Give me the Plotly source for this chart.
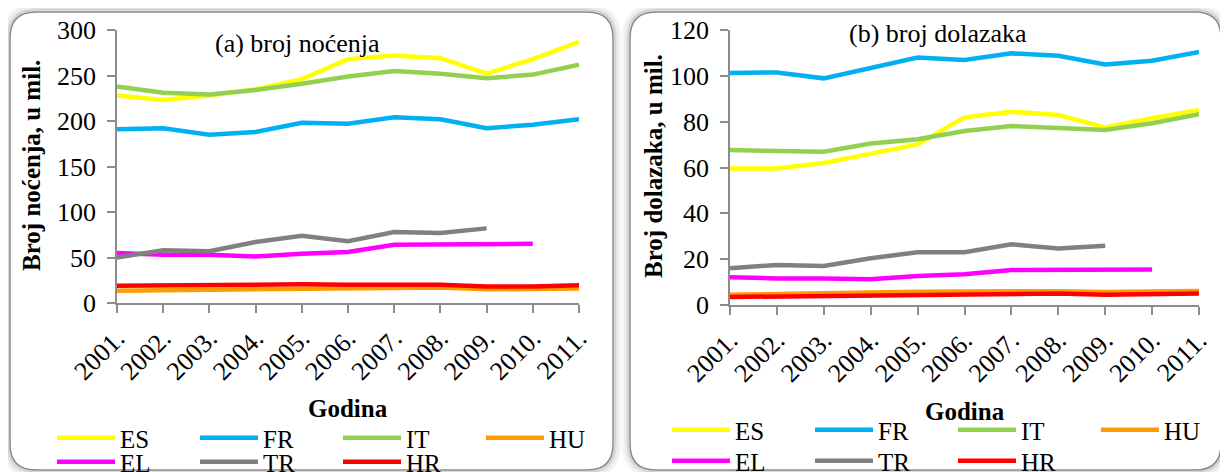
import plotly.graph_objects as go

# data (millions)
years = ["2001.", "2002.", "2003.", "2004.", "2005.", "2006.", "2007.", "2008.", "2009.", "2010.", "2011."]
countries = ["ES", "FR", "IT", "HU", "EL", "TR", "HR"]

# (a) broj nocenja
nights_es = [228, 223, 228, 235, 246, 268, 272, 269, 252, 268, 287]
nights_fr = [191, 192, 185, 188, 198, 197, 204, 202, 192, 196, 202]
nights_it = [238, 231, 229, 234, 241, 249, 255, 252, 247, 251, 262]
nights_hu = [13.5, 14, 14, 15, 16, 16, 17, 17, 15, 15, 16]
nights_el = [55, 53, 53, 51, 54, 56, 64, 64, 64, 65, None]
nights_tr = [50, 58, 57, 67, 74, 68, 78, 77, 82, None, None]
nights_hr = [19, 19.5, 19.5, 20, 20.5, 20, 20, 20, 18, 18, 19.5]

# (b) broj dolazaka
arr_es = [59.6, 59.6, 62.0, 66.2, 70.1, 81.9, 84.3, 82.9, 77.5, 81.5, 85.1]
arr_fr = [101.2, 101.5, 98.9, 103.4, 108.0, 106.9, 109.8, 108.8, 105.0, 106.6, 110.4]
arr_it = [67.6, 67.2, 66.9, 70.5, 72.3, 75.9, 78.1, 77.2, 76.4, 79.3, 83.3]
arr_hu = [4.5, 4.9, 5.0, 5.3, 5.8, 5.9, 6.0, 6.0, 5.7, 5.8, 6.1]
arr_el = [12.1, 11.6, 11.6, 11.2, 12.7, 13.4, 15.3, 15.3, 15.5, 15.5, None]
arr_tr = [16.0, 17.5, 17.0, 20.4, 23.0, 23.0, 26.5, 24.7, 25.9, None, None]
arr_hr = [3.5, 3.7, 3.9, 4.3, 4.7, 4.8, 5.0, 5.0, 4.5, 4.8, 5.0]

colors = {"ES": "#FFFF00", "FR": "#00B0F0", "IT": "#92D050", "HU": "#FF9A00",
          "EL": "#FF00FF", "TR": "#808080", "HR": "#FF0000"}

nights = dict(zip(countries, [nights_es, nights_fr, nights_it, nights_hu, nights_el, nights_tr, nights_hr]))
arrivals = dict(zip(countries, [arr_es, arr_fr, arr_it, arr_hu, arr_el, arr_tr, arr_hr]))

W, H = 1228, 472
OFF = 8  # page body margin
FONT = "Liberation Serif, Times New Roman, serif"
AX = "#8C8C8C"

# positions below are measured in page pixels, converted to paper fractions
def px(x):
    return (x - OFF) / W

def py(y):
    return 1 - (y - OFF) / H

fig = go.Figure()

row1 = ["ES", "FR", "IT", "HU"]
for data, xa, ya, legs in [(nights, "x", "y", ("legend", "legend2")),
                           (arrivals, "x2", "y2", ("legend3", "legend4"))]:
    for c in countries:
        fig.add_trace(go.Scatter(
            x=years, y=data[c], name=c, mode="lines",
            line=dict(color=colors[c], width=4.5),
            xaxis=xa, yaxis=ya,
            legend=legs[0] if c in row1 else legs[1],
            legendwidth=40 if c == "HU" else None,
            hoverinfo="skip"))

# panel frames (rounded boxes with a soft shadow)
def rounded(x0, y0, x1, y1, r):
    return (f"M{px(x0 + r)},{py(y0)} L{px(x1 - r)},{py(y0)} Q{px(x1)},{py(y0)} {px(x1)},{py(y0 + r)} "
            f"L{px(x1)},{py(y1 - r)} Q{px(x1)},{py(y1)} {px(x1 - r)},{py(y1)} "
            f"L{px(x0 + r)},{py(y1)} Q{px(x0)},{py(y1)} {px(x0)},{py(y1 - r)} "
            f"L{px(x0)},{py(y0 + r)} Q{px(x0)},{py(y0)} {px(x0 + r)},{py(y0)} Z")

shapes = []
for (x0, y0, x1, y1) in [(10, 12, 613, 470), (630, 12, 1221, 470)]:
    for k, op in [(7, 0.06), (5, 0.10), (3, 0.16), (1.5, 0.22)]:
        shapes.append(dict(type="path", xref="paper", yref="paper", layer="below",
                           path=rounded(x0 - k, y0 - k, x1 + k, y1 + k, 26 + k),
                           line=dict(color=f"rgba(80,80,80,{op})", width=2)))
    shapes.append(dict(type="path", xref="paper", yref="paper", layer="below",
                       path=rounded(x0, y0, x1, y1, 26), fillcolor="white",
                       line=dict(color="#8A8A8A", width=1.5)))

axis_common = dict(showgrid=False, zeroline=False, showline=True, linecolor=AX, linewidth=1.5,
                   ticks="outside", ticklen=8, tickwidth=1.5, tickcolor=AX,
                   tickfont=dict(family=FONT, size=26, color="black"))

fig.update_layout(
    width=W, height=H, autosize=False,
    margin=dict(l=0, r=0, t=0, b=0, autoexpand=False),
    paper_bgcolor="white", plot_bgcolor="rgba(0,0,0,0)",
    shapes=shapes,
    xaxis=dict(domain=[px(117), px(579)], anchor="y", type="category", range=[0, 10],
               tickangle=-45, **axis_common),
    yaxis=dict(domain=[py(303), py(30)], anchor="x", range=[0, 300], dtick=50,
               ticklabelstandoff=6, **axis_common),
    xaxis2=dict(domain=[px(730), px(1199)], anchor="y2", type="category", range=[0, 10],
                tickangle=-45, **axis_common),
    yaxis2=dict(domain=[py(305), py(30)], anchor="x2", range=[0, 120], dtick=20,
                ticklabelstandoff=6, **axis_common),
)

leg_common = dict(orientation="h", xanchor="left", yanchor="middle", bgcolor="rgba(0,0,0,0)",
                  font=dict(family=FONT, size=25, color="black"),
                  entrywidth=70, entrywidthmode="pixels", itemwidth=58, tracegroupgap=0)
fig.update_layout(
    legend=dict(x=px(52), y=py(438), **leg_common),
    legend2=dict(x=px(52), y=py(462), **leg_common),
    legend3=dict(x=px(667), y=py(430), **leg_common),
    legend4=dict(x=px(667), y=py(461), **leg_common),
)

ann = [
    dict(text="(a) broj noćenja", x=px(297), y=py(43), font=dict(family=FONT, size=26)),
    dict(text="(b) broj dolazaka", x=px(938), y=py(34), font=dict(family=FONT, size=26)),
    dict(text="Broj noćenja, u mil.", x=px(31), y=py(166), textangle=-90,
         font=dict(family=FONT, size=25, weight="bold")),
    dict(text="Broj dolazaka, u mil.", x=px(653), y=py(166), textangle=-90,
         font=dict(family=FONT, size=25, weight="bold")),
    dict(text="Godina", x=px(348), y=py(408), font=dict(family=FONT, size=25, weight="bold")),
    dict(text="Godina", x=px(965), y=py(411), font=dict(family=FONT, size=25, weight="bold")),
]
for a in ann:
    a.update(xref="paper", yref="paper", showarrow=False, xanchor="center", yanchor="middle")
    a["font"]["color"] = "black"
fig.update_layout(annotations=ann)

fig.write_html("out.html")
